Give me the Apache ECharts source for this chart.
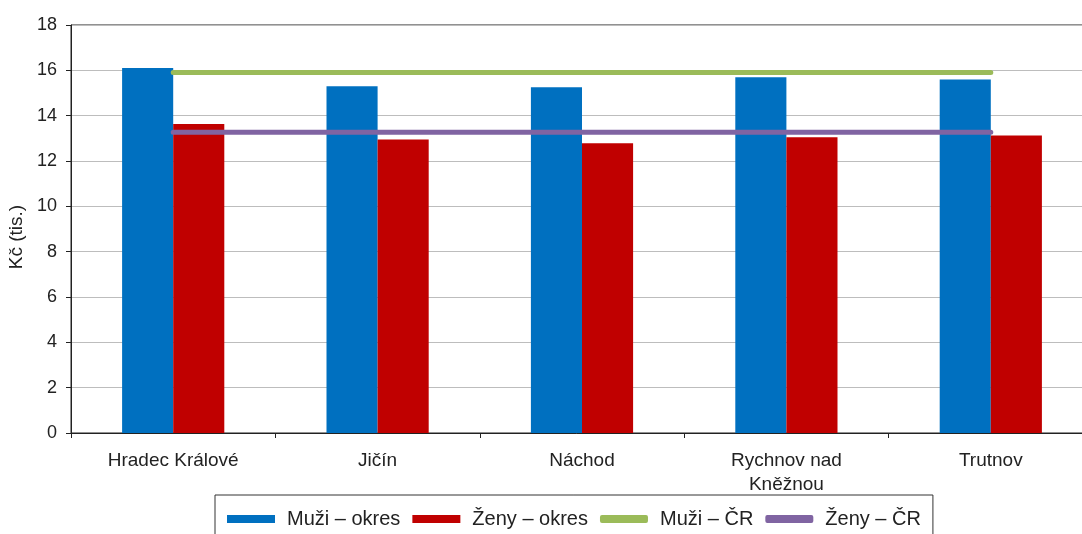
<!DOCTYPE html>
<html>
<head>
<meta charset="utf-8">
<script src="https://cdn.jsdelivr.net/npm/echarts@6/dist/echarts.min.js"></script>
<style>
	html, body { margin: 0; padding: 0; background: #fff; }
	#chart { width: 1082px; height: 534px; }
</style>
</head>
<body>
<div id="chart"></div>
<script>
// okresy
var categories = ['Hradec Králové', 'Jičín', 'Náchod', 'Rychnov nad\nKněžnou', 'Trutnov'];
// medián mezd (tis. Kč)
var muziOkres = [16.1, 15.3, 15.25, 15.7, 15.6];
var zenyOkres = [13.63, 12.95, 12.78, 13.05, 13.13];
var muziCR = 15.9;
var zenyCR = 13.27;
var yTicks = { min: 0, max: 18, interval: 2 };

var font = 'Liberation Sans, Arial, sans-serif';

var myChart = echarts.init(document.getElementById('chart'));

var option = {
	animation: false,
	textStyle: { fontFamily: font },
	grid: {
		left: 71,
		top: 25,
		width: 1022,
		height: 408,
		outerBoundsMode: 'none',
		containLabel: false,
		show: true,
		borderColor: '#222',
		borderWidth: 1
	},
	legend: {
		left: 215,
		top: 495,
		itemWidth: 48,
		itemHeight: 8,
		itemGap: 12,
		padding: [14, 12, 20, 12],
		borderColor: '#333',
		borderWidth: 1,
		textStyle: { fontSize: 20, color: '#222', fontFamily: font, padding: [0, 0, 0, 7] },
		data: [
			{ name: 'Muži – okres', icon: 'rect' },
			{ name: 'Ženy – okres', icon: 'rect' },
			{ name: 'Muži – ČR', icon: 'roundRect' },
			{ name: 'Ženy – ČR', icon: 'roundRect' }
		]
	},
	xAxis: {
		type: 'category',
		data: categories,
		axisLine: { lineStyle: { color: '#222', width: 1 } },
		axisTick: { show: true, length: 5, lineStyle: { color: '#222' } },
		axisLabel: { fontSize: 19, color: '#222', margin: 16, lineHeight: 24, interval: 0 }
	},
	yAxis: {
		type: 'value',
		min: yTicks.min,
		max: yTicks.max,
		interval: yTicks.interval,
		name: 'Kč (tis.)',
		nameLocation: 'middle',
		nameGap: 43,
		nameTextStyle: { fontSize: 19, color: '#222', padding: [0, 16, 0, 0] },
		axisLine: { show: true, lineStyle: { color: '#222', width: 1 } },
		axisTick: { show: true, length: 5, lineStyle: { color: '#222' } },
		axisLabel: { fontSize: 18, color: '#222', margin: 14 },
		splitLine: { lineStyle: { color: '#bdbdbd', width: 1 } }
	},
	series: [
		{
			name: 'Muži – okres',
			type: 'bar',
			data: muziOkres,
			barGap: '0%',
			barCategoryGap: '50%',
			itemStyle: { color: '#0070C0' }
		},
		{
			name: 'Ženy – okres',
			type: 'bar',
			data: zenyOkres,
			itemStyle: { color: '#C00000' }
		},
		{
			name: 'Muži – ČR',
			type: 'line',
			data: categories.map(function () { return muziCR; }),
			symbol: 'none',
			lineStyle: { color: '#9BBB59', width: 5, cap: 'round' },
			itemStyle: { color: '#9BBB59' }
		},
		{
			name: 'Ženy – ČR',
			type: 'line',
			data: categories.map(function () { return zenyCR; }),
			symbol: 'none',
			lineStyle: { color: '#8064A2', width: 5, cap: 'round' },
			itemStyle: { color: '#8064A2' }
		}
	]
};
myChart.setOption(option);
</script>
</body>
</html>
